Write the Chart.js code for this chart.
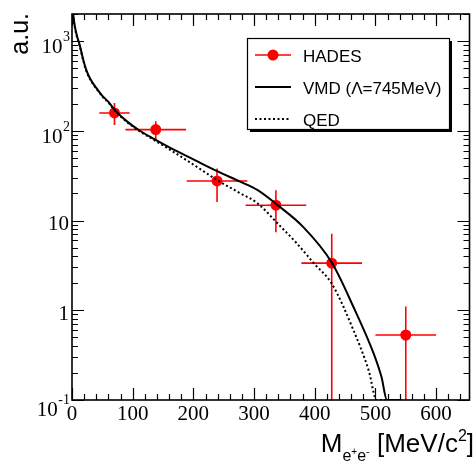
<!DOCTYPE html>
<html>
<head>
<meta charset="utf-8">
<style>
  html, body { margin: 0; padding: 0; background: #ffffff; }
  canvas { display: block; }
</style>
<script src="https://cdn.jsdelivr.net/npm/chart.js@4"></script>
</head>
<body>
<canvas id="c" width="475" height="466"></canvas>
<script>
// HADES eta Dalitz e+e- invariant-mass spectrum with VMD and QED form-factor curves

const hadesMass      = [70, 138, 239, 336, 428, 550];
const hadesYield     = [158, 103, 27.6, 14.8, 3.35, 0.53];
const hadesMassHalf  = [25, 50, 50, 50, 50, 50];
const hadesYieldHigh = [204, 128, 38, 21.7, 7.1, 1.1];
const hadesYieldLow  = [116, 78.7, 16.1, 7.4, 0, 0];

const vmdMass  = [1.5, 4, 8, 12.6, 18, 23.5, 30, 40, 50, 60, 70, 90, 110, 135, 159, 200, 241, 275, 306, 339, 380, 428, 464, 497, 510, 519, 543];
const vmdYield = [2100, 1550, 1150, 910, 640, 477, 380, 300, 245, 210, 172, 128, 102, 81, 66, 48, 35, 27.5, 21.8, 14.8, 8.6, 3.4, 1.08, 0.33, 0.18, 0.1, 0.1];

const qedMass  = [1.5, 4, 8, 12.6, 18, 23.5, 30, 40, 50, 60, 70, 90, 110, 135, 159, 200, 241, 275, 306, 339, 370, 399, 428, 464, 489, 502, 543];
const qedYield = [2050, 1500, 1120, 880, 625, 465, 372, 295, 241, 206, 169, 126, 100, 79, 63, 42, 27.7, 20.5, 15.5, 9.25, 5.6, 3.31, 1.98, 0.594, 0.212, 0.1, 0.1];

const xTickValues = [0, 100, 200, 300, 400, 500, 600];
const xTickLabels = ['0', '100', '200', '300', '400', '500', '600'];
const yTickValues = [0.1, 1, 10, 100, 1000];
const yTickBase   = ['10', '1', '10', '10', '10'];
const yTickExp    = ['-1', '', '', '2', '3'];

const seriesLabels = ['HADES', 'VMD (\u039B=745MeV)', 'QED'];
const xTitleMain = 'M';
const xTitleSub = ['e', '+', 'e', '-'];
const xTitleUnit = ' [MeV/c';
const yTitle = 'a.u.';

const SANS = '"Liberation Sans", Arial, Helvetica, sans-serif';
const SERIF = '"Liberation Serif", "Times New Roman", serif';
const RED = '#ff0000';

function toXY(xs, ys) { return xs.map((x, i) => ({ x: x, y: ys[i] })); }

// Error bars for the measured points, drawn under the markers
const errorBars = {
  id: 'errorBars',
  beforeDatasetsDraw(chart) {
    const { ctx, chartArea: a, scales: { x, y } } = chart;
    ctx.save();
    ctx.beginPath();
    ctx.rect(a.left, a.top, a.right - a.left, a.bottom - a.top);
    ctx.clip();
    ctx.strokeStyle = RED;
    ctx.lineWidth = 1.6;
    hadesMass.forEach((m, i) => {
      const px = x.getPixelForValue(m);
      const py = y.getPixelForValue(hadesYield[i]);
      const x0 = x.getPixelForValue(m - hadesMassHalf[i]);
      const x1 = x.getPixelForValue(m + hadesMassHalf[i]);
      const yTop = y.getPixelForValue(hadesYieldHigh[i]);
      const yBot = hadesYieldLow[i] > 0 ? y.getPixelForValue(hadesYieldLow[i]) : a.bottom;
      ctx.beginPath();
      ctx.moveTo(x0, py); ctx.lineTo(x1, py);
      ctx.moveTo(px, yTop); ctx.lineTo(px, yBot);
      ctx.stroke();
    });
    ctx.restore();
  }
};

// Frame, mirrored ticks, tick labels, axis titles and legend box
const frame = {
  id: 'frame',
  afterDraw(chart) {
    const { ctx, chartArea: a, scales: { x, y } } = chart;
    ctx.save();
    ctx.strokeStyle = '#000';
    ctx.fillStyle = '#000';

    // ticks
    ctx.lineWidth = 1.2;
    ctx.beginPath();
    for (let v = 0; v <= x.max; v += 20) {
      const px = Math.round(x.getPixelForValue(v)) + 0.5;
      const len = v % 100 === 0 ? 12 : 6;
      ctx.moveTo(px, a.bottom); ctx.lineTo(px, a.bottom - len);
      ctx.moveTo(px, a.top); ctx.lineTo(px, a.top + len);
    }
    for (let d = -1; d <= 3; d++) {
      for (let m = 1; m <= 9; m++) {
        const v = m * Math.pow(10, d);
        if (v > y.max + 1e-9) continue;
        const py = Math.round(y.getPixelForValue(v)) + 0.5;
        const len = m === 1 ? 12 : 6;
        ctx.moveTo(a.left, py); ctx.lineTo(a.left + len, py);
        ctx.moveTo(a.right, py); ctx.lineTo(a.right - len, py);
      }
    }
    ctx.stroke();

    // frame
    ctx.lineWidth = 1.6;
    ctx.strokeRect(a.left, a.top, a.right - a.left, a.bottom - a.top);

    // x tick labels
    ctx.font = '21px ' + SERIF;
    ctx.textAlign = 'center';
    ctx.textBaseline = 'alphabetic';
    xTickValues.forEach((v, i) => {
      ctx.fillText(xTickLabels[i], x.getPixelForValue(v), a.bottom + 20);
    });

    // y tick labels (base with optional exponent)
    const labelRight = a.left - 2;
    yTickValues.forEach((v, i) => {
      const py = y.getPixelForValue(v);
      const hasExp = yTickExp[i] !== '';
      let base = py + (hasExp ? 5 : 2.5) + 7.2;
      if (v === y.min) base += 4;
      ctx.font = '14px ' + SERIF;
      const ew = hasExp ? ctx.measureText(yTickExp[i]).width : 0;
      ctx.textAlign = 'left';
      if (hasExp) ctx.fillText(yTickExp[i], labelRight - ew, base - 12);
      ctx.font = '21px ' + SERIF;
      ctx.textAlign = 'right';
      ctx.fillText(yTickBase[i], labelRight - ew - (hasExp ? 0.5 : 1), base);
    });

    // y title
    ctx.save();
    ctx.translate(28, 13);
    ctx.rotate(-Math.PI / 2);
    ctx.font = '25px ' + SANS;
    ctx.textAlign = 'right';
    ctx.textBaseline = 'alphabetic';
    ctx.fillText(yTitle, 0, 0);
    ctx.restore();

    // x title: M_{e+e-} [MeV/c^2]
    const parts = [
      { t: xTitleMain, f: 26, dy: 0 },
      { t: xTitleSub[0], f: 16, dy: 9 },
      { t: xTitleSub[1], f: 10, dy: 3 },
      { t: xTitleSub[2], f: 16, dy: 9 },
      { t: xTitleSub[3], f: 11, dy: 3 },
      { t: xTitleUnit, f: 26, dy: 0 },
      { t: '2', f: 16, dy: -11 },
      { t: ']', f: 26, dy: 0 }
    ];
    let total = 0;
    parts.forEach(p => { ctx.font = p.f + 'px ' + SANS; p.w = ctx.measureText(p.t).width; total += p.w; });
    let cx = 474 - total;
    ctx.textAlign = 'left';
    parts.forEach(p => {
      ctx.font = p.f + 'px ' + SANS;
      ctx.fillText(p.t, cx, 452 + p.dy);
      cx += p.w;
    });

    // legend
    const L = { left: 247, top: 38, right: 449, bottom: 129 };
    ctx.fillStyle = '#000';
    ctx.fillRect(L.left + 3, L.top + 3, L.right - L.left, L.bottom - L.top);
    ctx.fillStyle = '#fff';
    ctx.fillRect(L.left, L.top, L.right - L.left, L.bottom - L.top);
    ctx.lineWidth = 1.2;
    ctx.strokeStyle = '#000';
    ctx.strokeRect(L.left + 0.5, L.top + 0.5, L.right - L.left, L.bottom - L.top);

    const rows = [55, 87, 119];
    const sx0 = 255, sx1 = 291;
    // HADES
    ctx.strokeStyle = RED; ctx.lineWidth = 1.6;
    ctx.beginPath(); ctx.moveTo(sx0, rows[0]); ctx.lineTo(sx1, rows[0]); ctx.stroke();
    ctx.fillStyle = RED;
    ctx.beginPath(); ctx.arc((sx0 + sx1) / 2, rows[0], 5.5, 0, Math.PI * 2); ctx.fill();
    // VMD
    ctx.strokeStyle = '#000'; ctx.lineWidth = 2;
    ctx.beginPath(); ctx.moveTo(sx0, rows[1]); ctx.lineTo(sx1, rows[1]); ctx.stroke();
    // QED
    ctx.setLineDash([2, 2.5]);
    ctx.beginPath(); ctx.moveTo(sx0, rows[2]); ctx.lineTo(sx1, rows[2]); ctx.stroke();
    ctx.setLineDash([]);

    ctx.fillStyle = '#000';
    ctx.font = '17px ' + SANS;
    ctx.textAlign = 'left';
    ctx.textBaseline = 'alphabetic';
    seriesLabels.forEach((s, i) => ctx.fillText(s, 303, rows[i] + 6.5));

    ctx.restore();
  }
};

new Chart(document.getElementById('c'), {
  type: 'line',
  data: {
    datasets: [
      {
        label: seriesLabels[1],
        data: toXY(vmdMass, vmdYield),
        borderColor: '#000',
        borderWidth: 2,
        pointRadius: 0,
        fill: false,
        cubicInterpolationMode: 'monotone',
        order: 0
      },
      {
        label: seriesLabels[2],
        data: toXY(qedMass, qedYield),
        borderColor: '#000',
        borderWidth: 2,
        borderDash: [2, 2.5],
        pointRadius: 0,
        fill: false,
        cubicInterpolationMode: 'monotone',
        order: 1
      },
      {
        label: seriesLabels[0],
        data: toXY(hadesMass, hadesYield),
        showLine: false,
        pointRadius: 5.5,
        pointBackgroundColor: RED,
        pointBorderWidth: 0,
        borderColor: RED,
        order: 2
      }
    ]
  },
  options: {
    responsive: false,
    devicePixelRatio: 1,
    animation: false,
    layout: { padding: { left: 72, right: 2, top: 14, bottom: 66 } },
    plugins: { legend: { display: false }, tooltip: { enabled: false } },
    scales: {
      x: { type: 'linear', min: 0, max: 655, display: false },
      y: { type: 'logarithmic', min: 0.1, max: 2000, display: false }
    }
  },
  plugins: [errorBars, frame]
});
</script>
</body>
</html>
